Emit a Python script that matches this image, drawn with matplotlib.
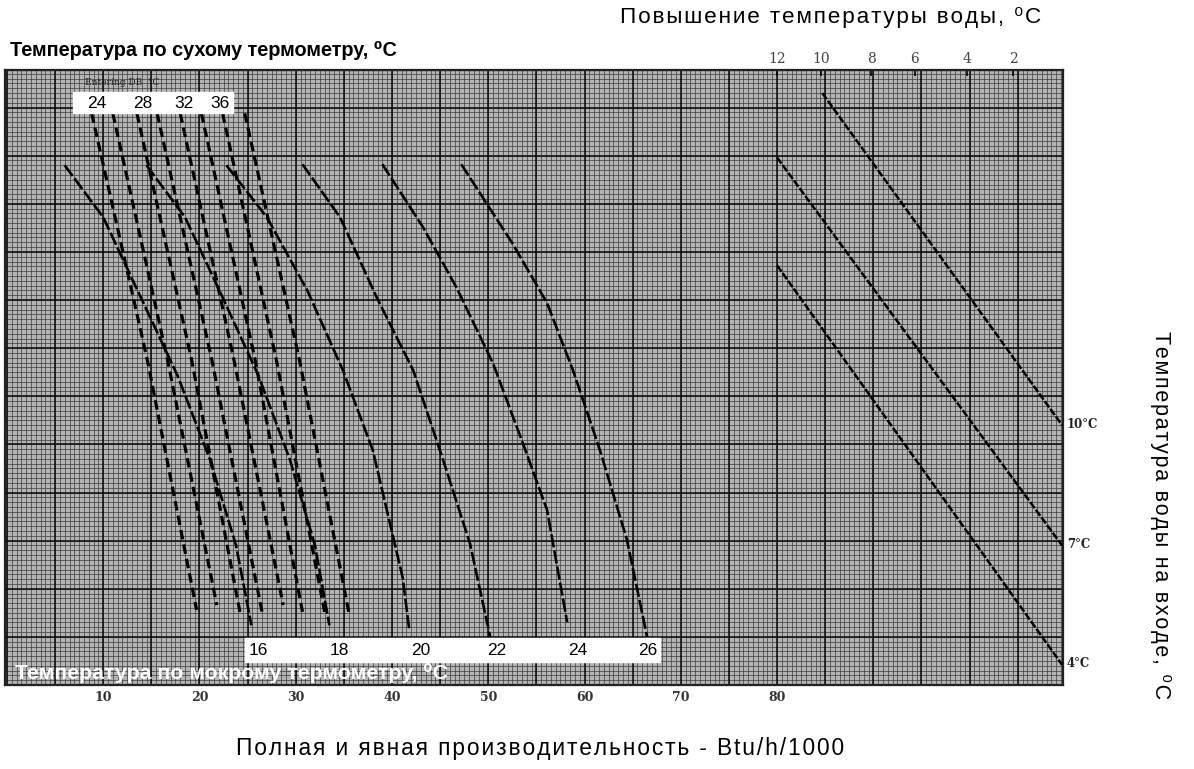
import numpy as np
import matplotlib.pyplot as plt
from matplotlib.patches import Rectangle

plt.rcParams['font.family'] = ['Liberation Sans', 'DejaVu Sans']

# bottom scale: total / sensible capacity, Btu/h/1000
x_ticks = [10, 20, 30, 40, 50, 60, 70, 80]
# top scale: water temperature rise, C
rise_pos = [80.0, 84.6, 89.8, 94.3, 99.7, 104.5]
rise_labels = ['12', '10', '8', '6', '4', '2']

# wet bulb curves (solid), label -> points (x, y)
wb_labels = ['16', '18', '20', '22', '24', '26']
wb_x = [
    [6.0, 10.0, 13.8, 17.7, 21.1, 23.8, 25.4],
    [14.5, 18.5, 22.3, 26.1, 29.4, 32.0, 33.5],
    [22.8, 27.0, 31.2, 34.9, 38.0, 41.1, 41.8],
    [30.7, 34.6, 38.4, 42.2, 45.3, 48.1, 50.2],
    [39.0, 43.2, 46.7, 50.5, 53.6, 56.1, 58.2],
    [47.2, 52.5, 56.1, 58.8, 61.6, 64.4, 66.5],
]
wb_y = [
    [54.0, 48.6, 40.5, 32.2, 23.4, 14.5, 6.2],
    [54.0, 48.6, 40.5, 32.2, 23.4, 14.5, 6.2],
    [54.0, 48.6, 41.0, 32.7, 24.4, 11.2, 5.7],
    [54.1, 48.6, 40.3, 32.7, 23.4, 14.7, 5.0],
    [54.1, 47.6, 41.3, 33.4, 25.1, 18.2, 6.5],
    [54.1, 45.9, 39.7, 32.7, 24.4, 15.1, 5.0],
]
wb_label_x = [26.1, 34.5, 43.0, 50.9, 59.3, 66.6]

# dry bulb lines (dashed): top, middle, bottom
db_top_x = [8.8, 11.0, 13.5, 15.6, 18.0, 20.2, 22.4, 24.7]
db_mid_x = [14.6, 16.7, 19.2, 21.3, 23.6, 25.8, 28.0, 30.4]
db_bot_x = [19.7, 21.8, 24.2, 26.5, 28.7, 30.7, 33.0, 35.6]
db_bot_y = [7.8, 8.3, 7.6, 7.6, 8.3, 7.6, 7.6, 7.1]
db_top_y = 59.4
db_mid_y = 33.7
db_labels = ['24', '28', '32', '36']
db_label_x = [9.3, 14.1, 18.4, 22.1]

# entering water temperature lines
ewt_labels = ['10°C', '7°C', '4°C']
ewt_x = [[84.7, 109.6], [80.0, 109.6], [80.0, 109.6]]
ewt_y = [[61.5, 27.0], [54.8, 14.5], [43.6, 2.1]]


def spaced(s):
    # the scanned captions are set with wide letter spacing
    return '\u200a'.join(s)


fig = plt.figure(figsize=(11.94, 7.69), dpi=100)
ax = fig.add_axes([5 / 1194, 84 / 769, 1058 / 1194, 615 / 769])
ax.set_xlim(-0.2, 109.7)
ax.set_ylim(0, 63.9)
ax.set_facecolor('#b4b4b4')

# graph paper
for v in np.arange(0, 110, 0.5):
    ax.axvline(v, color='#3c3c3c', lw=0.5, zorder=0)
for v in np.arange(0, 64, 0.5):
    ax.axhline(v, color='#3c3c3c', lw=0.5, zorder=0)
for v in np.arange(0, 110, 5):
    ax.axvline(v, color='#0a0a0a', lw=1.1, zorder=0.5)
for v in np.arange(0, 64, 5):
    ax.axhline(v, color='#0a0a0a', lw=1.1, zorder=0.5)

for xs, ys in zip(wb_x, wb_y):
    ax.plot(xs, ys, color='black', lw=1.9, ls=(0, (5, 1.2)), zorder=3)

for i in range(len(db_top_x)):
    ax.plot([db_top_x[i], db_mid_x[i], db_bot_x[i]],
            [db_top_y, db_mid_y, db_bot_y[i]],
            color='black', lw=2.3, ls=(0, (3, 1.6)), zorder=3)

for xs, ys in zip(ewt_x, ewt_y):
    ax.plot(xs, ys, color='black', lw=1.8, ls=(0, (3, 0.8)), zorder=3)

# white label boxes
ax.add_patch(Rectangle((6.9, 59.4), 16.6, 2.2, color='white', zorder=4))
ax.add_patch(Rectangle((24.7, 2.4), 43.1, 2.5, color='white', zorder=4))
for lab, xv in zip(db_labels, db_label_x):
    ax.text(xv, 60.4, lab, ha='center', va='center', fontsize=12.5, zorder=5)
for lab, xv in zip(wb_labels, wb_label_x):
    ax.text(xv, 3.6, lab, ha='center', va='center', fontsize=12.5, zorder=5)
ax.text(8.1, 62.6, 'Entering DB  °C', fontsize=6.5, color='#222222',
        family='DejaVu Serif', va='center', zorder=5)

for lab, ys in zip(ewt_labels, ewt_y):
    ax.text(110.1, ys[1] + 0.1, lab, fontsize=8.5, family='DejaVu Serif',
            fontweight='bold', color='#222222', va='center', clip_on=False)

ax.set_xticks(x_ticks)
ax.set_xticklabels([str(t) for t in x_ticks], family='DejaVu Serif',
                   fontweight='bold', fontsize=9, color='#333333')
ax.tick_params(axis='x', length=0, pad=4)
ax.set_yticks([])

top = ax.secondary_xaxis('top')
top.set_xticks(rise_pos)
top.set_xticklabels(rise_labels, family='DejaVu Serif', fontsize=10, color='#444444')
top.tick_params(axis='x', length=4, width=1.2, direction='in', pad=3)

for s in ax.spines.values():
    s.set_linewidth(1.6)
    s.set_color('#222222')

fig.text(10 / 1194, 1 - 50 / 769, 'Температура по сухому термометру, ⁰C',
         fontsize=14.3, fontweight='bold', va='center')
fig.text(620 / 1194, 1 - 18 / 769, spaced('Повышение температуры воды, ⁰C'),
         fontsize=16.2, va='center')
fig.text(15 / 1194, 1 - 673 / 769, 'Температура по мокрому термометру, ⁰C',
         fontsize=15.3, fontweight='bold', color='white', va='center')
fig.text(540 / 1194, 1 - 748 / 769,
         spaced('Полная и явная производительность - Btu/h/1000'),
         fontsize=16.4, ha='center', va='center')
fig.text(1160 / 1194, 1 - 515 / 769, spaced('Температура воды на входе, ⁰C'),
         fontsize=15.5, rotation=-90, ha='center', va='center')

fig.savefig('out.png', dpi=100)
